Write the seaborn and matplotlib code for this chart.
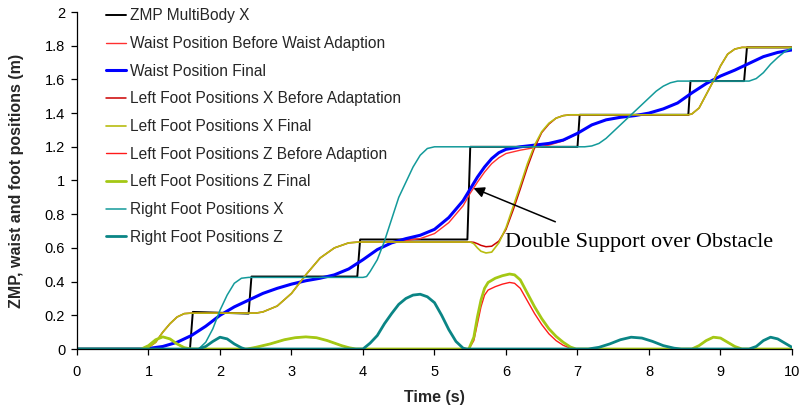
import matplotlib
matplotlib.use("Agg")
import matplotlib.pyplot as plt
import seaborn as sns

# ---- trajectories (time in s, position in m) ----
zmp_t = [0.0, 1.58, 1.62, 2.40, 2.44, 3.92, 3.96, 5.46, 5.50, 7.00, 7.03, 8.55, 8.58, 9.33, 9.37, 10.0]
zmp_x = [0.0, 0.0, 0.22, 0.21, 0.43, 0.43, 0.65, 0.65, 1.20, 1.20, 1.39, 1.39, 1.59, 1.59, 1.79, 1.79]

waist_t = [0, 0.9, 1.0, 1.2, 1.4, 1.6, 1.8, 2.0, 2.2, 2.4,
           2.6, 2.8, 3.0, 3.2, 3.4, 3.6, 3.8, 4.0, 4.2, 4.4,
           4.6, 4.8, 5.0, 5.2, 5.4, 5.5, 5.6, 5.7, 5.8, 5.9,
           6.0, 6.2, 6.4, 6.6, 6.8, 7.0, 7.2, 7.4, 7.6, 7.8,
           8.0, 8.2, 8.4, 8.6, 8.8, 9.0, 9.2, 9.4, 9.6, 9.8, 10.0]
waist_before = [0, 0, 0.003, 0.015, 0.04, 0.08, 0.135, 0.20, 0.25, 0.29,
                0.33, 0.36, 0.385, 0.405, 0.42, 0.44, 0.475, 0.53, 0.59, 0.63,
                0.645, 0.655, 0.685, 0.75, 0.85, 0.925, 0.99, 1.05, 1.10, 1.135,
                1.16, 1.18, 1.195, 1.21, 1.235, 1.28, 1.33, 1.36, 1.375, 1.385,
                1.40, 1.425, 1.46, 1.52, 1.575, 1.62, 1.655, 1.695, 1.735, 1.76, 1.775]
waist_final = [0, 0, 0.003, 0.015, 0.04, 0.08, 0.135, 0.20, 0.25, 0.29,
               0.33, 0.36, 0.385, 0.405, 0.42, 0.44, 0.475, 0.53, 0.59, 0.63,
               0.655, 0.675, 0.71, 0.78, 0.88, 0.95, 1.02, 1.08, 1.13, 1.165,
               1.185, 1.20, 1.21, 1.22, 1.24, 1.28, 1.33, 1.36, 1.375, 1.385,
               1.40, 1.425, 1.46, 1.52, 1.575, 1.62, 1.655, 1.695, 1.735, 1.76, 1.775]

lfx_t = [0, 0.9, 1.0, 1.1, 1.2, 1.3, 1.4, 1.5, 1.6, 2.5,
         2.6, 2.8, 3.0, 3.2, 3.4, 3.6, 3.8, 3.95, 5.5, 5.55,
         5.6, 5.65, 5.72, 5.8, 5.9, 6.0, 6.1, 6.2, 6.3, 6.4,
         6.5, 6.6, 6.7, 6.8, 6.9, 8.55, 8.6, 8.7, 8.8, 8.9,
         9.0, 9.1, 9.2, 9.3, 10.0]
lfx_before = [0, 0, 0.01, 0.04, 0.10, 0.15, 0.19, 0.21, 0.213, 0.213,
              0.22, 0.255, 0.33, 0.44, 0.54, 0.60, 0.63, 0.635, 0.635, 0.633,
              0.625, 0.615, 0.607, 0.61, 0.64, 0.71, 0.825, 0.95, 1.08, 1.195,
              1.285, 1.335, 1.37, 1.385, 1.39, 1.39, 1.395, 1.43, 1.51, 1.59,
              1.68, 1.75, 1.78, 1.79, 1.79]
lfx_final = [0, 0, 0.01, 0.04, 0.10, 0.15, 0.19, 0.21, 0.213, 0.213,
             0.22, 0.255, 0.33, 0.44, 0.54, 0.60, 0.63, 0.635, 0.635, 0.625,
             0.60, 0.58, 0.57, 0.575, 0.63, 0.72, 0.845, 0.97, 1.10, 1.21,
             1.29, 1.34, 1.37, 1.385, 1.39, 1.39, 1.395, 1.43, 1.51, 1.59,
             1.68, 1.75, 1.78, 1.79, 1.79]

lfz_t = [0, 0.9, 1.0, 1.1, 1.2, 1.3, 1.4, 1.5, 1.6, 2.38,
         2.5, 2.7, 2.9, 3.05, 3.2, 3.35, 3.5, 3.6, 3.7, 3.8,
         3.9, 5.48, 5.55, 5.6, 5.65, 5.7, 5.75, 5.85, 5.95, 6.05,
         6.12, 6.2, 6.3, 6.4, 6.5, 6.6, 6.7, 6.8, 6.9, 6.98,
         8.6, 8.7, 8.8, 8.9, 9.0, 9.1, 9.2, 9.3, 10.0]
lfz_before = [0, 0, 0.02, 0.055, 0.072, 0.06, 0.03, 0.008, 0, 0,
              0.01, 0.03, 0.055, 0.067, 0.072, 0.067, 0.05, 0.035, 0.02, 0.008,
              0, 0, 0.05, 0.15, 0.25, 0.32, 0.35, 0.37, 0.385, 0.395,
              0.39, 0.36, 0.285, 0.21, 0.145, 0.09, 0.05, 0.022, 0.005, 0,
              0, 0.02, 0.05, 0.07, 0.065, 0.04, 0.015, 0, 0]
lfz_final = [0, 0, 0.02, 0.055, 0.072, 0.06, 0.03, 0.008, 0, 0,
             0.01, 0.03, 0.055, 0.067, 0.072, 0.067, 0.05, 0.035, 0.02, 0.008,
             0, 0, 0.07, 0.19, 0.29, 0.36, 0.395, 0.42, 0.435, 0.445,
             0.44, 0.41, 0.33, 0.25, 0.18, 0.12, 0.075, 0.04, 0.012, 0,
             0, 0.02, 0.05, 0.07, 0.065, 0.04, 0.015, 0, 0]

rfx_t = [0, 1.7, 1.8, 1.9, 2.0, 2.1, 2.2, 2.3, 2.4, 4.0,
         4.05, 4.1, 4.2, 4.3, 4.4, 4.5, 4.6, 4.7, 4.8, 4.9,
         5.0, 7.1, 7.2, 7.3, 7.4, 7.5, 7.6, 7.7, 7.8, 7.9,
         8.0, 8.1, 8.2, 8.3, 8.4, 9.4, 9.5, 9.6, 9.7, 9.8,
         9.9, 10.0]
rfx = [0, 0, 0.04, 0.12, 0.23, 0.32, 0.39, 0.42, 0.425, 0.425,
       0.43, 0.46, 0.53, 0.64, 0.77, 0.90, 0.99, 1.08, 1.15, 1.19,
       1.2, 1.2, 1.205, 1.22, 1.25, 1.29, 1.33, 1.37, 1.41, 1.45,
       1.49, 1.53, 1.56, 1.58, 1.59, 1.59, 1.605, 1.64, 1.69, 1.73,
       1.765, 1.785]

rfz_t = [0, 1.7, 1.8, 1.9, 2.0, 2.1, 2.2, 2.3, 2.35, 4.0,
         4.1, 4.2, 4.3, 4.4, 4.5, 4.6, 4.7, 4.8, 4.9, 5.0,
         5.1, 5.2, 5.3, 5.4, 5.45, 7.15, 7.3, 7.45, 7.6, 7.75,
         7.9, 8.05, 8.2, 8.35, 8.45, 9.4, 9.5, 9.6, 9.7, 9.8,
         9.9, 10.0]
rfz = [0, 0, 0.015, 0.045, 0.07, 0.06, 0.03, 0.007, 0, 0,
       0.035, 0.08, 0.15, 0.21, 0.265, 0.30, 0.32, 0.325, 0.31, 0.275,
       0.20, 0.115, 0.045, 0.005, 0, 0, 0.01, 0.03, 0.055, 0.07,
       0.065, 0.045, 0.02, 0.005, 0, 0, 0.015, 0.05, 0.07, 0.06,
       0.035, 0.01]

x_ticks = [0, 1, 2, 3, 4, 5, 6, 7, 8, 9, 10]
x_tick_labels = ["0", "1", "2", "3", "4", "5", "6", "7", "8", "9", "10"]
y_ticks = [0, 0.2, 0.4, 0.6, 0.8, 1.0, 1.2, 1.4, 1.6, 1.8, 2.0]
y_tick_labels = ["0", "0.2", "0.4", "0.6", "0.8", "1", "1.2", "1.4", "1.6", "1.8", "2"]

# (label, t, values, colour, width)
series = [
    ("ZMP MultiBody X", zmp_t, zmp_x, "#000000", 1.4),
    ("Waist Position Before Waist Adaption", waist_t, waist_before, "#ff3030", 1.0),
    ("Waist Position Final", waist_t, waist_final, "#0000ff", 2.2),
    ("Left Foot Positions X Before Adaptation", lfx_t, lfx_before, "#cc0000", 1.1),
    ("Left Foot Positions X Final", lfx_t, lfx_final, "#b8bc10", 1.2),
    ("Left Foot Positions Z Before Adaption", lfz_t, lfz_before, "#ff1a1a", 1.0),
    ("Left Foot Positions Z Final", lfz_t, lfz_final, "#a4c814", 2.0),
    ("Right Foot Positions X", rfx_t, rfx, "#139a9a", 1.1),
    ("Right Foot Positions Z", rfz_t, rfz, "#0a8585", 2.0),
]

sns.set_theme(style="ticks")
plt.rcParams["font.family"] = ["Liberation Sans", "DejaVu Sans"]

fig = plt.figure(figsize=(8.04, 4.11), dpi=100)
ax = fig.add_axes([77 / 804, 1 - 349 / 411, 715 / 804, 337 / 411])

for label, t, v, col, lw in series:
    sns.lineplot(x=t, y=v, ax=ax, color=col, linewidth=lw, label=label,
                 sort=False, estimator=None)

ax.set_xlim(0, 10)
ax.set_ylim(0, 2)
ax.set_xticks(x_ticks)
ax.set_xticklabels(x_tick_labels)
ax.set_yticks(y_ticks)
ax.set_yticklabels(y_tick_labels)
ax.tick_params(direction="out", length=4.5, width=0.9, colors="black",
               labelsize=10.5, pad=4)
ax.tick_params(axis="x", pad=7)
for side in ("top", "right"):
    ax.spines[side].set_visible(False)
for side in ("left", "bottom"):
    ax.spines[side].set_color("black")
    ax.spines[side].set_linewidth(0.9)

ax.set_xlabel("Time (s)", fontsize=11.5, fontweight="bold", labelpad=8)
ax.set_ylabel("ZMP, waist and foot positions (m)", fontsize=11.5,
              fontweight="bold", labelpad=15)

leg = ax.legend(loc="upper left", bbox_to_anchor=(0.040, 1.011), frameon=False,
                fontsize=11.2, handlelength=1.3, handletextpad=0.26,
                labelspacing=0.815, borderaxespad=0, borderpad=0)

# arrow pointing at the double-support phase
ax.annotate("", xy=(5.545, 0.955), xytext=(6.69, 0.755),
            arrowprops=dict(arrowstyle="-|>", color="black", lw=1.1,
                            mutation_scale=16, shrinkA=0, shrinkB=0))
ax.text(5.99, 0.632, "Double Support over Obstacle", fontsize=15.9,
        family=["Liberation Serif", "DejaVu Serif"], va="center", ha="left",
        color="black")

fig.savefig("out.png", dpi=100)
